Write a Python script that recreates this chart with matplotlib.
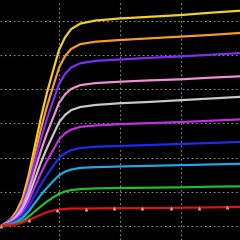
import numpy as np
import matplotlib
matplotlib.use("Agg")
import matplotlib.pyplot as plt
from matplotlib.ticker import MultipleLocator

# sample times shared by the upper nine curves
t = [0.05, 0.2, 0.3, 0.4, 0.5, 0.6, 0.7, 0.8, 0.9, 1.0, 1.1, 1.2, 1.35,
     1.6, 2.0, 2.5, 3.0, 3.5, 4.0]

yellow = [0, 0.18, 0.42, 0.79, 1.46, 2.30, 3.14, 3.88, 4.52, 5.15, 5.52, 5.76,
          5.92, 6.01, 6.07, 6.12, 6.17, 6.24, 6.30]
orange = [0, 0.17, 0.37, 0.71, 1.31, 2.07, 2.81, 3.48, 4.06, 4.63, 4.97, 5.18,
          5.32, 5.39, 5.44, 5.49, 5.54, 5.59, 5.65]
purple = [0, 0.15, 0.33, 0.63, 1.17, 1.85, 2.52, 3.12, 3.64, 4.15, 4.45, 4.64,
          4.76, 4.83, 4.87, 4.92, 4.96, 5.01, 5.06]
pink = [0, 0.13, 0.29, 0.55, 1.02, 1.60, 2.18, 2.70, 3.15, 3.60, 3.85, 4.01,
        4.12, 4.18, 4.22, 4.26, 4.29, 4.34, 4.38]
grey = [0, 0.11, 0.24, 0.46, 0.86, 1.35, 1.84, 2.27, 2.65, 3.03, 3.25, 3.39,
        3.48, 3.54, 3.59, 3.63, 3.68, 3.73, 3.78]
magenta = [0, 0.09, 0.20, 0.39, 0.71, 1.13, 1.53, 1.89, 2.21, 2.53, 2.71, 2.82,
           2.90, 2.94, 2.98, 3.01, 3.04, 3.08, 3.12]
blue = [0, 0.07, 0.16, 0.30, 0.56, 0.89, 1.20, 1.49, 1.74, 1.99, 2.13, 2.22,
        2.28, 2.32, 2.34, 2.37, 2.40, 2.43, 2.46]
cyan = [0, 0.05, 0.12, 0.23, 0.42, 0.66, 0.90, 1.11, 1.30, 1.48, 1.59, 1.65,
        1.70, 1.72, 1.74, 1.76, 1.78, 1.80, 1.82]
green = [0, 0.03, 0.08, 0.14, 0.27, 0.42, 0.57, 0.71, 0.83, 0.94, 1.01, 1.05,
         1.08, 1.10, 1.11, 1.12, 1.13, 1.15, 1.16]

# red curve has its own sampling (includes the marked points)
t_red = [0.05, 0.2, 0.3, 0.4, 0.51, 0.6, 0.7, 0.8, 0.9, 0.97, 1.1, 1.2, 1.44,
         1.90, 2.36, 2.84, 3.30, 3.75, 4.0]
red = [0, 0.02, 0.05, 0.10, 0.18, 0.25, 0.33, 0.40, 0.45, 0.47, 0.50, 0.51,
       0.51, 0.52, 0.52, 0.53, 0.54, 0.55, 0.56]
red_marks = [0, 4, 9, 12, 13, 14, 15, 16, 17]

series = [
    (yellow, "#f2d027"),
    (orange, "#f59a2c"),
    (purple, "#7b2ff0"),
    (pink, "#f08fd2"),
    (grey, "#c8c8c8"),
    (magenta, "#c22fe0"),
    (blue, "#1c2bef"),
    (cyan, "#22a6e6"),
    (green, "#1fbf2a"),
]

fig = plt.figure(figsize=(2.4, 2.4), dpi=100, facecolor="black")
ax = fig.add_axes([0, 0, 1, 1], facecolor="black")

for vals, col in series:
    ax.plot(t, vals, color=col, lw=1.6, solid_capstyle="round")
ax.plot(t_red, red, color="#e01212", lw=1.6, marker="^", markersize=2.8,
        markevery=red_marks, mfc="#c9a0a0", mec="none")

ax.set_xlim(0.033, 3.967)
ax.set_ylim(-0.41, 6.61)
ax.xaxis.set_major_locator(MultipleLocator(1))
ax.yaxis.set_major_locator(MultipleLocator(1))
ax.grid(True, color="#8a8a8a", ls=(0, (1.5, 2.5)), lw=0.8)
ax.set_axisbelow(True)
ax.tick_params(left=False, bottom=False, labelleft=False, labelbottom=False)
for s in ax.spines.values():
    s.set_visible(False)

fig.savefig("out.png", dpi=100, facecolor="black")
